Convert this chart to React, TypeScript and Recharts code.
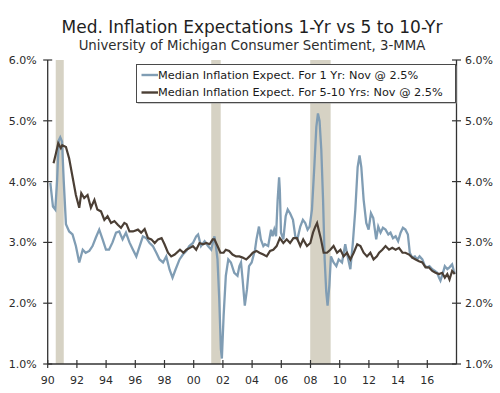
import React from 'react';
import { LineChart, Line, XAxis, YAxis, ReferenceArea, Legend } from 'recharts';

const FONT = '"DejaVu Sans", Verdana, sans-serif';

const xTicks = [1990, 1992, 1994, 1996, 1998, 2000, 2002, 2004, 2006, 2008, 2010, 2012, 2014, 2016];
const yTicks = [1, 2, 3, 4, 5, 6];
const recessionStarts = [1990.55, 2001.2, 2007.98];
const recessionEnds = [1991.1, 2001.85, 2009.38];

const seriesNames = [
  'Median Inflation Expect. For 1 Yr: Nov @ 2.5%',
  'Median Inflation Expect. For 5-10 Yrs: Nov @ 2.5%',
];
const seriesColors = ['#809db4', '#4b3f35'];

const oneYrDates = [
  1990.18, 1990.36, 1990.52, 1990.64, 1990.76, 1990.86, 1990.98, 1991.1, 1991.25, 1991.47,
  1991.7, 1991.93, 1992.16, 1992.4, 1992.6, 1992.85, 1993.07, 1993.3, 1993.53, 1993.76,
  1993.99, 1994.2, 1994.44, 1994.68, 1994.9, 1995.13, 1995.36, 1995.6, 1995.84, 1996.07,
  1996.3, 1996.52, 1996.75, 1996.98, 1997.2, 1997.44, 1997.66, 1997.9, 1998.12, 1998.35,
  1998.55, 1998.75, 1999.03, 1999.26, 1999.5, 1999.7, 1999.95, 2000.17, 2000.3, 2000.5,
  2000.75, 2000.98, 2001.2, 2001.42, 2001.52, 2001.63, 2001.75, 2001.86, 2001.93, 2002.05,
  2002.2, 2002.37, 2002.55, 2002.78, 2003.0, 2003.13, 2003.24, 2003.35, 2003.5, 2003.65,
  2003.79, 2003.97, 2004.2, 2004.3, 2004.47, 2004.6, 2004.77, 2004.88, 2005.1, 2005.3,
  2005.4, 2005.52, 2005.64, 2005.75, 2005.85, 2005.9, 2005.98, 2006.14, 2006.3, 2006.44,
  2006.6, 2006.8, 2006.96, 2007.1, 2007.3, 2007.48, 2007.64, 2007.8, 2007.94, 2008.1,
  2008.26, 2008.4, 2008.51, 2008.62, 2008.74, 2008.86, 2008.97, 2009.08, 2009.17, 2009.29,
  2009.4, 2009.58, 2009.77, 2009.93, 2010.16, 2010.38, 2010.54, 2010.73, 2010.9, 2011.07,
  2011.23, 2011.36, 2011.48, 2011.64, 2011.82, 2011.98, 2012.14, 2012.3, 2012.5, 2012.64,
  2012.8, 2012.96, 2013.14, 2013.33, 2013.48, 2013.65, 2013.83, 2014.0, 2014.17, 2014.33,
  2014.5, 2014.67, 2014.8, 2014.97, 2015.15, 2015.3, 2015.47, 2015.66, 2015.84, 2016.0,
  2016.15, 2016.34, 2016.52, 2016.68, 2016.8, 2016.9, 2017.07, 2017.2, 2017.37, 2017.52,
  2017.7, 2017.82, 2017.88,
];
const oneYrValues = [
  3.98, 3.59, 3.54, 4.0, 4.68, 4.73, 4.66, 4.0, 3.3, 3.18,
  3.13, 2.94, 2.67, 2.88, 2.83, 2.86, 2.94, 3.08, 3.21, 3.05,
  2.88, 2.88, 3.0, 3.16, 3.18, 3.05, 3.16, 3.0, 2.88, 2.77,
  2.94, 3.1, 3.07, 2.99, 2.94, 2.83, 2.72, 2.67, 2.77, 2.55,
  2.42, 2.55, 2.72, 2.8, 2.86, 2.94, 2.99, 3.1, 3.13, 2.94,
  3.02, 2.94, 2.88, 3.1, 2.94, 2.72, 2.07, 1.25, 1.09, 1.8,
  2.45, 2.72, 2.67, 2.5, 2.45, 2.61, 2.67, 2.39, 1.96, 2.23,
  2.61, 2.67, 2.88, 3.05, 3.26, 3.05, 2.94, 2.97, 2.94, 3.21,
  3.1, 3.21, 3.1, 3.7, 4.07, 3.86, 3.16, 3.05, 3.43, 3.54,
  3.48, 3.37, 3.1, 3.05, 3.26, 3.37, 3.32, 3.21, 3.26, 3.54,
  4.24, 4.9, 5.12, 5.0, 4.52, 3.7, 2.72, 2.18, 1.96, 2.29,
  2.77, 2.67, 2.61, 2.72, 2.67, 2.97, 2.77, 2.56, 2.99, 3.54,
  4.24, 4.43, 4.24, 3.7, 3.32, 3.21, 3.48, 3.4, 3.05, 3.26,
  3.16, 3.24, 3.21, 3.13, 3.16, 3.07, 3.1, 3.02, 3.16, 3.24,
  3.21, 3.13, 2.83, 2.75, 2.77, 2.72, 2.77, 2.72, 2.61, 2.59,
  2.61, 2.56, 2.53, 2.5, 2.42, 2.37, 2.5, 2.61, 2.56, 2.59,
  2.64, 2.53, 2.48,
];

const longDates = [
  1990.4, 1990.55, 1990.72, 1990.9, 1991.0, 1991.25, 1991.47, 1991.7, 1991.93, 1992.16,
  1992.3, 1992.5, 1992.73, 1992.96, 1993.2, 1993.4, 1993.65, 1993.88, 1994.1, 1994.34,
  1994.57, 1994.8, 1995.02, 1995.25, 1995.4, 1995.6, 1995.84, 1996.18, 1996.4, 1996.64,
  1996.87, 1997.1, 1997.33, 1997.56, 1997.8, 1998.0, 1998.24, 1998.46, 1998.7, 1999.06,
  1999.3, 1999.5, 1999.74, 1999.95, 2000.17, 2000.4, 2000.64, 2000.86, 2001.09, 2001.3,
  2001.42, 2001.63, 2001.83, 2002.05, 2002.2, 2002.43, 2002.66, 2002.9, 2003.13, 2003.35,
  2003.6, 2003.82, 2004.05, 2004.3, 2004.5, 2004.77, 2005.0, 2005.23, 2005.45, 2005.68,
  2005.9, 2006.14, 2006.37, 2006.6, 2006.83, 2007.07, 2007.3, 2007.5, 2007.76, 2007.99,
  2008.17, 2008.33, 2008.45, 2008.56, 2008.72, 2008.9, 2009.13, 2009.36, 2009.58, 2009.82,
  2010.05, 2010.27, 2010.5, 2010.73, 2010.96, 2011.2, 2011.42, 2011.64, 2011.87, 2012.1,
  2012.32, 2012.55, 2012.7, 2012.92, 2013.14, 2013.38, 2013.6, 2013.83, 2014.06, 2014.3,
  2014.5, 2014.75, 2014.97, 2015.2, 2015.43, 2015.66, 2015.88, 2016.1, 2016.34, 2016.56,
  2016.8, 2017.02, 2017.2, 2017.37, 2017.52, 2017.7, 2017.88,
];
const longValues = [
  4.3, 4.45, 4.63, 4.55, 4.6, 4.57, 4.38, 4.08, 3.78, 3.57,
  3.81, 3.73, 3.78, 3.57, 3.7, 3.54, 3.51, 3.37, 3.43, 3.32,
  3.35, 3.29, 3.24, 3.32, 3.3, 3.18, 3.18, 3.21, 3.16, 3.22,
  3.07, 3.05, 2.99, 3.05, 3.07, 2.97, 2.83, 2.77, 2.8, 2.88,
  2.83, 2.88, 2.91, 2.94, 2.88, 2.99, 2.97, 2.99, 2.97, 3.05,
  3.05, 2.94, 2.83, 2.83, 2.88, 2.86, 2.8, 2.77, 2.77, 2.75,
  2.72, 2.77, 2.83, 2.86, 2.83, 2.8, 2.77, 2.86, 2.88, 2.94,
  3.07, 2.99, 3.05, 2.99, 3.07, 3.07, 2.94, 3.05, 2.94, 2.99,
  3.16, 3.26, 3.32, 3.21, 3.05, 2.83, 2.83, 2.88, 2.94, 2.83,
  2.88, 2.77, 2.83, 2.72, 2.83, 2.97, 2.94, 2.83, 2.77, 2.83,
  2.72, 2.77, 2.83, 2.88, 2.94, 2.88, 2.91, 2.88, 2.91, 2.83,
  2.83, 2.8, 2.75, 2.72, 2.69, 2.67, 2.59, 2.59, 2.53, 2.5,
  2.48, 2.5, 2.42, 2.48, 2.39, 2.53, 2.48,
];

const oneYrData = oneYrDates.map((d, i) => ({ date: d, value: oneYrValues[i] }));
const longData = longDates.map((d, i) => ({ date: d, value: longValues[i] }));

const AXIS = '#333333';
const TEXT = '#2b2b2b';

const XTick = (props: any) => {
  const { x, y, payload } = props;
  const yr = Math.round(payload.value) % 100;
  const label = String(yr).padStart(2, '0');
  return (
    <g>
      <line x1={x} x2={x} y1={y - 4} y2={y + 4} stroke={AXIS} strokeWidth={1.2} />
      <text x={x} y={y + 20} textAnchor="middle" fontFamily={FONT} fontSize={11} fill={TEXT}>
        {label}
      </text>
    </g>
  );
};

const LeftTick = (props: any) => {
  const { x, y, payload } = props;
  return (
    <g>
      <line x1={x - 4.5} x2={x + 4.5} y1={y} y2={y} stroke={AXIS} strokeWidth={1.2} />
      <text x={x - 11} y={y + 4} textAnchor="end" fontFamily={FONT} fontSize={11} fill={TEXT}>
        {Number(payload.value).toFixed(1) + '%'}
      </text>
    </g>
  );
};

const RightTick = (props: any) => {
  const { x, y, payload } = props;
  return (
    <g>
      <line x1={x - 4.5} x2={x + 4.5} y1={y} y2={y} stroke={AXIS} strokeWidth={1.2} />
      <text x={x + 8.5} y={y + 4} textAnchor="start" fontFamily={FONT} fontSize={11} fill={TEXT}>
        {Number(payload.value).toFixed(1) + '%'}
      </text>
    </g>
  );
};

const LegendBox = () => (
  <svg width={322} height={41} style={{ display: 'block', overflow: 'visible' }}>
    <rect x={1.5} y={1.5} width={319} height={38} fill="#9a9a9a" />
    <rect x={0.5} y={0.5} width={319} height={38} fill="#ffffff" stroke="#4a4a4a" strokeWidth={1} />
    {seriesNames.map((name, i) => (
      <g key={name}>
        <line x1={5.5} x2={22} y1={11 + i * 17.5} y2={11 + i * 17.5} stroke={seriesColors[i]} strokeWidth={2.4} />
        <text x={22} y={14.5 + i * 17.5} fontFamily={FONT} fontSize={11.3} fill="#1a1a1a">
          {name}
        </text>
      </g>
    ))}
  </svg>
);

export default function App() {
  return (
    <div style={{ position: 'relative', width: 500, height: 393, background: '#ffffff' }}>
      <style>{'body{margin:0;}'}</style>
      <LineChart width={500} height={393} margin={{ top: 60, right: 0, bottom: 0, left: 0 }}>
        {recessionStarts.map((s, i) => (
          <ReferenceArea
            key={s}
            yAxisId="left"
            x1={s}
            x2={recessionEnds[i]}
            y1={1}
            y2={6}
            fill="#d6d2c4"
            fillOpacity={1}
            stroke="none"
            ifOverflow="hidden"
          />
        ))}
        <XAxis
          dataKey="date"
          type="number"
          domain={[1990, 2018]}
          ticks={xTicks}
          allowDataOverflow
          height={29}
          tickSize={0}
          tickMargin={0}
          tick={<XTick />}
          axisLine={{ stroke: AXIS, strokeWidth: 1.3 }}
          tickLine={false}
          interval={0}
        />
        <YAxis
          yAxisId="left"
          orientation="left"
          type="number"
          domain={[1, 6]}
          ticks={yTicks}
          allowDataOverflow
          width={47.7}
          tickSize={0}
          tickMargin={0}
          tick={<LeftTick />}
          axisLine={{ stroke: AXIS, strokeWidth: 1.3 }}
          tickLine={false}
          interval={0}
        />
        <YAxis
          yAxisId="right"
          orientation="right"
          type="number"
          domain={[1, 6]}
          ticks={yTicks}
          allowDataOverflow
          width={43.5}
          tickSize={0}
          tickMargin={0}
          tick={<RightTick />}
          axisLine={{ stroke: AXIS, strokeWidth: 1.3 }}
          tickLine={false}
          interval={0}
        />
        <Line
          yAxisId="left"
          data={oneYrData}
          dataKey="value"
          name={seriesNames[0]}
          type="linear"
          stroke={seriesColors[0]}
          strokeWidth={2.3}
          dot={false}
          isAnimationActive={false}
        />
        <Line
          yAxisId="left"
          data={longData}
          dataKey="value"
          name={seriesNames[1]}
          type="linear"
          stroke={seriesColors[1]}
          strokeWidth={2.2}
          dot={false}
          isAnimationActive={false}
        />
        <Legend
          layout="horizontal"
          verticalAlign="middle"
          align="center"
          content={<LegendBox />}
          wrapperStyle={{ left: 136, top: 64, width: 322, height: 41 }}
        />
      </LineChart>
      <svg
        width={500}
        height={60}
        style={{ position: 'absolute', left: 0, top: 0, pointerEvents: 'none' }}
      >
        <text x={252} y={33} textAnchor="middle" fontFamily={FONT} fontSize={17} fill="#1e1e1e">
          Med. Inflation Expectations 1-Yr vs 5 to 10-Yr
        </text>
        <text x={252} y={50} textAnchor="middle" fontFamily={FONT} fontSize={13.3} fill="#2e2e2e">
          University of Michigan Consumer Sentiment, 3-MMA
        </text>
      </svg>
    </div>
  );
}
